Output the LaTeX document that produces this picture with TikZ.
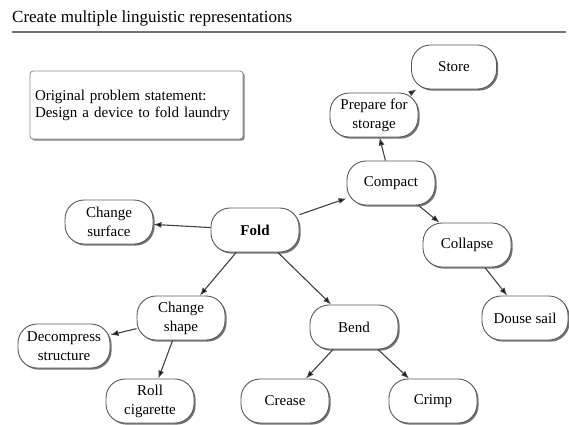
\documentclass[tikz,border=0pt]{standalone}
\usepackage{fontspec}
\setmainfont{Liberation Serif}
\usetikzlibrary{shadows}
\usetikzlibrary{arrows.meta}
\tikzset{Idea/.style={draw=black!65, line width=0.9pt, fill=white, rounded corners=19pt,
           minimum width=88pt, minimum height=44pt, inner sep=2pt, align=center,
           font=\fontsize{15}{19}\selectfont,
           drop shadow={shadow xshift=1.6pt, shadow yshift=-1.6pt, fill=black, opacity=0.55}},
         Note/.style={draw=black!45, line width=0.8pt, fill=white, rounded corners=3pt,
           minimum width=213pt, minimum height=68pt, inner xsep=5pt, text width=203pt, align=left,
           font=\fontsize{15}{17}\selectfont,
           drop shadow={shadow xshift=1.6pt, shadow yshift=-1.6pt, fill=black, opacity=0.5}},
         Link/.style={draw=black!75, line width=1.1pt, -{Latex[length=8pt,width=6pt]}}}

\begin{document}
\begin{tikzpicture}[x=1pt, y=-1pt]
    \useasboundingbox (0,0) rectangle (569,424);
    % heading
    \node (Title) [anchor=west, inner sep=0pt, font=\fontsize{17}{20}\selectfont] at (12,18) {Create multiple linguistic representations};
    \draw[black!55, line width=1.1pt] (12,32) -- (566,32);
    \node (Stmt) [Note] at (136.5,105) {Original problem statement:\\Design a device to fold laundry};
    % concept map
    \node (Fold) [Idea, font=\fontsize{15}{19}\selectfont\bfseries] at (255,230) {Fold};
    \node (Surf) [Idea] at (109,222) {Change\\surface};
    \node (Shape) [Idea] at (181,318) {Change\\shape};
    \node (Decomp) [Idea, minimum width=92pt] at (64,346) {Decompress\\structure};
    \node (Roll) [Idea] at (150,401) {Roll\\cigarette};
    \node (Bend) [Idea] at (354,327) {Bend};
    \node (Crease) [Idea] at (285,401) {Crease};
    \node (Crimp) [Idea] at (433,401) {Crimp};
    \node (Compact) [Idea] at (391,183) {Compact};
    \node (Prep) [Idea] at (374,115) {Prepare for\\storage};
    \node (Store) [Idea, minimum width=85pt] at (454,67) {Store};
    \node (Collapse) [Idea] at (467,245) {Collapse};
    \node (Douse) [Idea, minimum width=86pt] at (525,318) {Douse sail};
  \path[Link]
    (Fold) edge (Surf)
    (Fold) edge (Compact)
    (Fold) edge (Shape)
    (Fold) edge (Bend)
    (Compact) edge (Prep)
    (Prep) edge (Store)
    (Compact) edge (Collapse)
    (Collapse) edge (Douse)
    (Shape) edge (Decomp)
    (Shape) edge (Roll)
    (Bend) edge (Crease)
    (Bend) edge (Crimp);
\end{tikzpicture}
\end{document}
